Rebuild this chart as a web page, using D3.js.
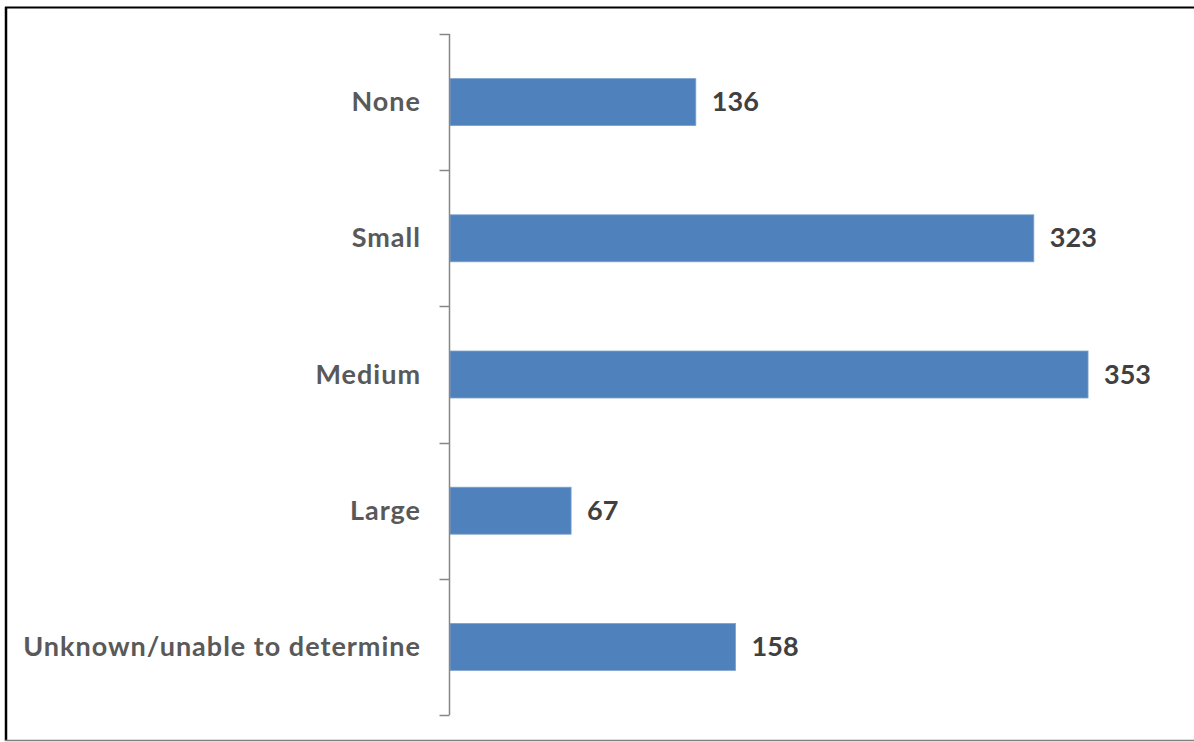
<!DOCTYPE html>
<html>
<head>
<meta charset="utf-8">
<script src="https://cdn.jsdelivr.net/npm/d3@7"></script>
<style>
  html, body { margin: 0; padding: 0; background: #fff; }
  svg { display: block; }
</style>
</head>
<body>
<svg id="chart" width="1194" height="742"></svg>
<script>
const categories = ["None", "Small", "Medium", "Large", "Unknown/unable to determine"];
const values = [136, 323, 353, 67, 158];
const axisMax = 400;

const svg = d3.select("#chart");
const W = 1194, H = 742;

// outer frame
svg.append("line").attr("x1", 5).attr("x2", W).attr("y1", 7.5).attr("y2", 7.5)
  .attr("stroke", "#000").attr("stroke-width", 2);
svg.append("line").attr("x1", 6).attr("x2", 6).attr("y1", 7).attr("y2", 741)
  .attr("stroke", "#000").attr("stroke-width", 2.5);
svg.append("line").attr("x1", 5).attr("x2", W).attr("y1", 740.5).attr("y2", 740.5)
  .attr("stroke", "#7f7f7f").attr("stroke-width", 1.5);

const x = d3.scaleLinear().domain([0, axisMax]).range([450, 1173]);
const y = d3.scaleBand().domain(categories).range([34, 715]).paddingInner(0.655).paddingOuter(0.3275);
const band = d3.scaleBand().domain(categories).range([34, 715]);

const font = "Lato, 'Open Sans', sans-serif";

// bars
svg.append("g").selectAll("rect").data(categories).join("rect")
  .attr("x", x(0))
  .attr("y", d => y(d))
  .attr("width", (d, i) => x(values[i]) - x(0))
  .attr("height", y.bandwidth())
  .attr("fill", "#4f81bd")
  .attr("stroke", "#7da2cf")
  .attr("stroke-width", 0.8);

// axis
const axisG = svg.append("g").attr("transform", "translate(449.5,0)");
axisG.append("line").attr("x1", 0).attr("x2", 0).attr("y1", 34).attr("y2", 715)
  .attr("stroke", "#868686").attr("stroke-width", 1.5);
const tickYs = categories.map(c => band(c)).concat([band(categories[categories.length - 1]) + band.bandwidth()]);
axisG.selectAll("line.tick").data(tickYs).join("line").attr("class", "tick")
  .attr("x1", -10).attr("x2", 0)
  .attr("y1", d => Math.round(d) + 0.5).attr("y2", d => Math.round(d) + 0.5)
  .attr("stroke", "#868686").attr("stroke-width", 1.5);

// category labels
svg.append("g").selectAll("text").data(categories).join("text")
  .attr("x", 421)
  .attr("y", d => y(d) + y.bandwidth() / 2 + 9)
  .attr("text-anchor", "end")
  .attr("font-family", font)
  .attr("font-weight", "bold")
  .attr("font-size", 27)
  .attr("letter-spacing", 1)
  .attr("fill", "#595959")
  .text(d => d);

// value labels
svg.append("g").selectAll("text").data(categories).join("text")
  .attr("x", (d, i) => x(values[i]) + 16)
  .attr("y", d => y(d) + y.bandwidth() / 2 + 9)
  .attr("font-family", font)
  .attr("font-weight", "bold")
  .attr("font-size", 27)
  .attr("fill", "#404040")
  .text((d, i) => values[i]);
</script>
</body>
</html>
